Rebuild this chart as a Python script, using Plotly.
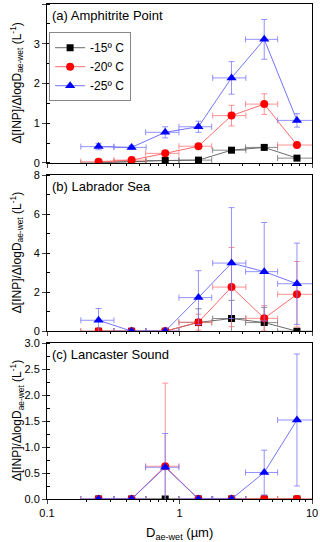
import plotly.graph_objects as go

# ---- data ----
x_mid = [0.245, 0.435, 0.78, 1.39, 2.47, 4.36, 7.7]
x_lo = [0.18, 0.32, 0.555, 0.99, 1.78, 3.15, 5.5]
x_hi = [0.32, 0.56, 0.99, 1.75, 3.17, 5.5, 13.0]

series_names = ["-15º C", "-20º C", "-25º C"]

# Panel (a) Amphitrite Point
a_vals = {
    "-15º C": [0.0, 0.03, 0.06, 0.07, 0.32, 0.39, 0.12],
    "-20º C": [0.03, 0.07, 0.24, 0.42, 1.19, 1.48, 0.45],
    "-25º C": [0.41, 0.39, 0.77, 0.91, 2.14, 3.11, 1.07],
}
a_err = {
    "-15º C": [0.0, 0.0, 0.01, 0.01, 0.05, 0.04, 0.03],
    "-20º C": [0.01, 0.02, 0.06, 0.04, 0.26, 0.26, 0.05],
    "-25º C": [0.08, 0.05, 0.14, 0.14, 0.41, 0.5, 0.17],
}
# Panel (b) Labrador Sea
b_vals = {
    "-15º C": [0.0, 0.0, 0.0, 0.45, 0.65, 0.44, 0.0],
    "-20º C": [0.0, 0.0, 0.0, 0.46, 2.26, 0.66, 1.89],
    "-25º C": [0.56, 0.0, 0.0, 1.72, 3.49, 3.05, 2.43],
}
b_err = {
    "-15º C": [0.0, 0.0, 0.0, 0.7, 0.93, 0.78, 0.0],
    "-20º C": [0.0, 0.0, 0.0, 0.41, 2.03, 0.65, 1.68],
    "-25º C": [0.6, 0.0, 0.0, 1.38, 2.84, 2.52, 2.08],
}
# Panel (c) Lancaster Sound
c_vals = {
    "-15º C": [0.0, 0.0, 0.0, 0.0, 0.0, 0.0, 0.0],
    "-20º C": [0.0, 0.0, 0.63, 0.0, 0.0, 0.0, 0.0],
    "-25º C": [0.0, 0.0, 0.61, 0.0, 0.0, 0.51, 1.52],
}
c_err = {
    "-15º C": [0.0, 0.0, 0.0, 0.0, 0.0, 0.0, 0.0],
    "-20º C": [0.0, 0.0, 1.6, 0.0, 0.0, 0.0, 0.0],
    "-25º C": [0.0, 0.0, 0.65, 0.0, 0.0, 0.43, 1.27],
}

panel_titles = ["(a) Amphitrite Point", "(b) Labrador Sea", "(c) Lancaster Sound"]
y_ranges = [[0, 4], [0, 8], [0, 3]]
y_dticks = [1, 2, 0.5]

styles = {
    "-15º C": dict(marker=dict(symbol="square", color="black", size=7),
                   line=dict(color="rgba(90,90,90,0.9)", width=1),
                   ecolor="rgba(110,110,110,0.8)"),
    "-20º C": dict(marker=dict(symbol="circle", color="red", size=8),
                   line=dict(color="rgba(255,90,90,0.9)", width=1),
                   ecolor="rgba(255,120,120,0.8)"),
    "-25º C": dict(marker=dict(symbol="triangle-up", color="blue", size=9),
                   line=dict(color="rgba(100,100,255,0.9)", width=1),
                   ecolor="rgba(120,120,255,0.8)"),
}

fig = go.Figure()
ex_plus = [h - m for h, m in zip(x_hi, x_mid)]
ex_minus = [m - l for m, l in zip(x_mid, x_lo)]

panels = [(a_vals, a_err), (b_vals, b_err), (c_vals, c_err)]
for i, (vals, errs) in enumerate(panels):
    ax = "" if i == 0 else str(i + 1)
    for name in series_names:
        st = styles[name]
        fig.add_trace(go.Scatter(
            x=x_mid, y=vals[name], mode="lines+markers", name=name,
            xaxis="x" + ax, yaxis="y" + ax,
            marker=st["marker"], line=st["line"],
            showlegend=(i == 0), cliponaxis=True,
            error_y=dict(type="data", array=errs[name], color=st["ecolor"],
                         thickness=1, width=3),
            error_x=dict(type="data", array=ex_plus, arrayminus=ex_minus,
                         color=st["ecolor"], thickness=1, width=3),
        ))

domains = [[0.679, 1.0], [0.339, 0.6545], [0.0, 0.315]]
font = "Liberation Sans, Arial, sans-serif"
ytitle = "Δ[INP]/ΔlogD<sub>ae-wet</sub> (L<sup>-1</sup>)"

layout = dict(
    width=320, height=542,
    margin=dict(l=47, r=8, t=4, b=43),
    paper_bgcolor="white", plot_bgcolor="white",
    font=dict(family=font, size=11, color="black"),
    legend=dict(x=0.008, y=0.943, xanchor="left", yanchor="top",
                bordercolor="#888", borderwidth=1, bgcolor="white",
                font=dict(size=12), tracegroupgap=0, itemwidth=30),
    showlegend=True,
)
annotations = []
for i in range(3):
    ax = "" if i == 0 else str(i + 1)
    layout["xaxis" + ax] = dict(
        type="log", range=[-1, 1], domain=[0, 1], anchor="y" + ax,
        showline=True, linecolor="black", linewidth=1, mirror=True,
        showgrid=False, zeroline=False, ticks="outside", ticklen=4,
        dtick=1, showticklabels=(i == 2), automargin=False,
        minor=dict(dtick="D1", ticks="outside", ticklen=2, tickcolor="black", showgrid=False),
    )
    layout["yaxis" + ax] = dict(
        range=y_ranges[i], domain=domains[i], anchor="x" + ax,
        showline=True, linecolor="black", linewidth=1, mirror=True,
        showgrid=False, zeroline=False, ticks="outside", ticklen=4,
        dtick=y_dticks[i], automargin=False,
        minor=dict(dtick=y_dticks[i] / 2, ticks="inside", ticklen=3, tickcolor="black", showgrid=False),
        tickformat=".1f" if i == 2 else "d",
    )
    annotations.append(dict(
        text=panel_titles[i], xref="x" + ax + " domain", yref="y" + ax + " domain",
        x=0.01, y=0.99, xanchor="left", yanchor="top", showarrow=False,
        font=dict(size=13, family=font),
    ))
    annotations.append(dict(
        text=ytitle, xref="paper", yref="y" + ax + " domain",
        x=-0.113, y=0.5, xanchor="center", yanchor="middle", textangle=-90,
        showarrow=False, font=dict(size=12, family=font),
    ))
annotations.append(dict(
    text="D<sub>ae-wet</sub> (µm)", xref="paper", yref="paper",
    x=0.5, y=-0.048, xanchor="center", yanchor="top", showarrow=False,
    font=dict(size=13, family=font),
))
layout["annotations"] = annotations
fig.update_layout(**layout)
fig.write_html("out.html", config={"displayModeBar": False},
               post_script="document.body.style.margin='0';document.body.style.overflow='hidden';")
